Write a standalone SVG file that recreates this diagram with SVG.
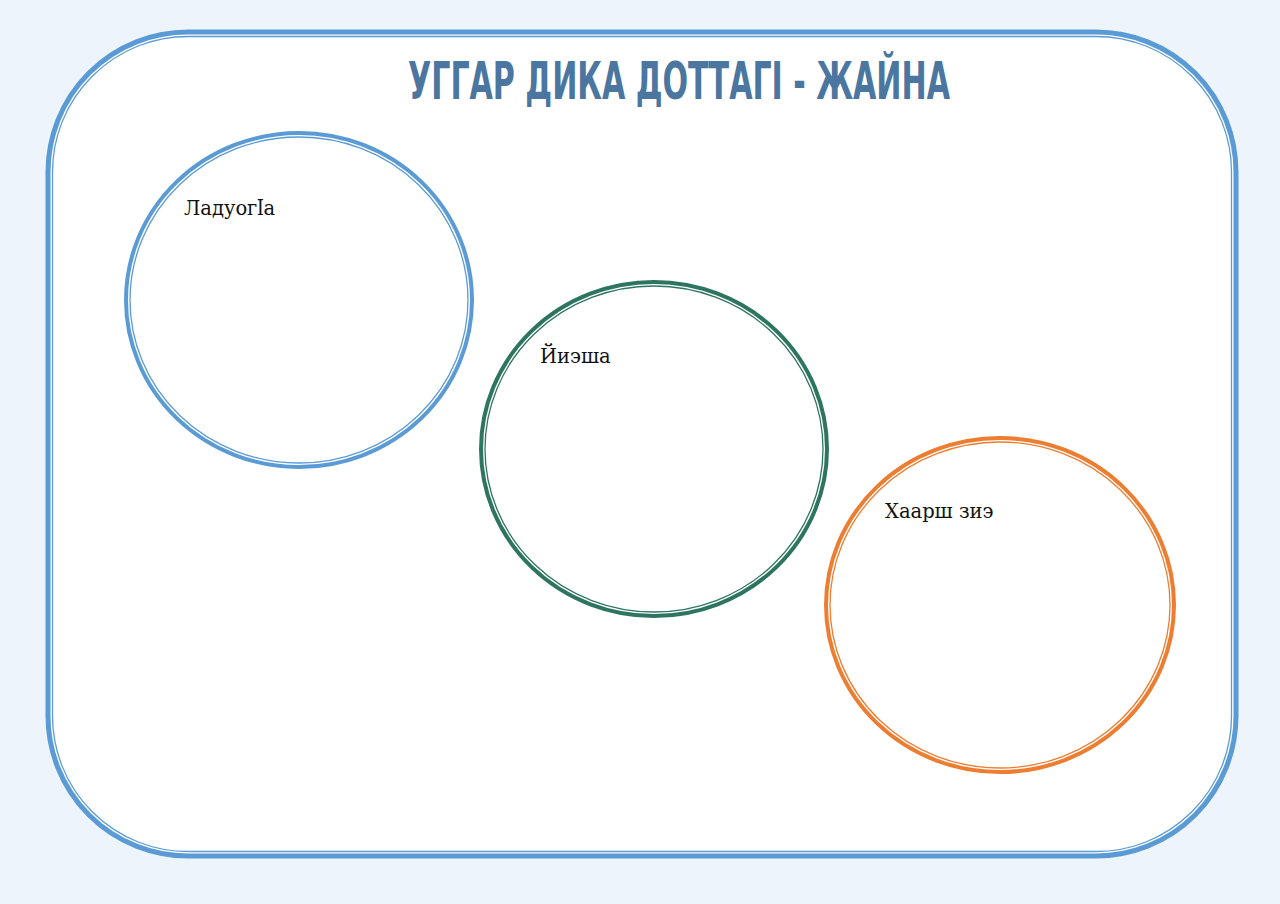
<svg xmlns="http://www.w3.org/2000/svg" width="1280" height="904" viewBox="0 0 1280 904">
<style>
.lbl{font-family:"DejaVu Serif","Liberation Serif",serif;font-size:19.5px;fill:#111}
.thick{fill:none;stroke-width:4}
.thin{fill:none;stroke-width:1.3}
</style>
<rect width="1280" height="904" fill="#eef4fb"/>
<g id="frame">
<rect x="48" y="32" width="1188" height="824" rx="140" fill="#fff" stroke="#5b9bd5" stroke-width="5"/>
<rect x="52.5" y="36.5" width="1179" height="815" rx="135.5" fill="none" stroke="#5b9bd5" stroke-width="1.3"/>
</g>
<text id="title" x="679" y="99" text-anchor="middle" font-family="'Liberation Sans Narrow','DejaVu Sans Condensed',sans-serif" font-weight="bold" font-size="52" fill="#4a76a0" textLength="542" lengthAdjust="spacingAndGlyphs">УГГАР ДИКА ДОТТАГІ - ЖАЙНА</text>
<g id="node1">
<ellipse class="thick" cx="299" cy="300" rx="173" ry="167" stroke="#5b9bd5"/>
<ellipse class="thin" cx="299" cy="300" rx="169" ry="163" stroke="#5b9bd5"/>
<text class="lbl" x="184" y="215">Ладуогӏа</text>
</g>
<g id="node2">
<ellipse class="thick" cx="654" cy="449" rx="173" ry="167" stroke="#2e7560"/>
<ellipse class="thin" cx="654" cy="449" rx="169" ry="163" stroke="#2e7560"/>
<text class="lbl" x="540" y="363">Йиэша</text>
</g>
<g id="node3">
<ellipse class="thick" cx="1000" cy="605" rx="174" ry="167" stroke="#ed7d31"/>
<ellipse class="thin" cx="1000" cy="605" rx="170" ry="163" stroke="#ed7d31"/>
<text class="lbl" x="885" y="518">Хаарш зиэ</text>
</g>
<g id="connectors"/>
</svg>
